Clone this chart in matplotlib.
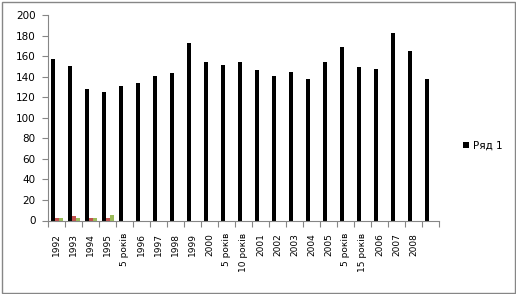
import numpy as np
import matplotlib
matplotlib.use('Agg')
import matplotlib.pyplot as plt
from matplotlib.patches import Rectangle

# categories (last one has no label in the original)
labels = ['1992', '1993', '1994', '1995', '5 років', '1996', '1997', '1998',
          '1999', '2000', '5 років', '10 років', '2001', '2002', '2003', '2004',
          '2005', '5 років', '15 років', '2006', '2007', '2008', '']
ryad1 = [157, 151, 128, 125, 131, 134, 141, 144, 173, 154, 152, 154,
         147, 141, 145, 138, 154, 169, 150, 148, 183, 165, 138]
ryad2 = [2, 4, 2, 2, 0, 0, 0, 0, 0, 0, 0, 0,
         0, 0, 0, 0, 0, 0, 0, 0, 0, 0, 0]
ryad3 = [2, 2, 2, 5, 0, 0, 0, 0, 0, 0, 0, 0,
         0, 0, 0, 0, 0, 0, 0, 0, 0, 0, 0]

gray = '#868686'
plt.rcParams['font.family'] = ['DejaVu Sans']

fig = plt.figure(figsize=(5.16, 2.94), dpi=100)
ax = fig.add_axes([48.3 / 516, 1 - 220.5 / 294, (439.3 - 48.3) / 516, (220.5 - 15.3) / 294])

x = np.arange(len(labels))
w = 0.235
ax.bar(x - w, ryad1, w, color='black', label='Ряд 1')
ax.bar(x, ryad2, w, color='#C0504D')
ax.bar(x + w, ryad3, w, color='#9BBB59')

ax.set_xlim(-0.5, len(labels) - 0.5)
ax.set_ylim(0, 200)
ax.set_yticks(range(0, 201, 20))
ax.tick_params(axis='y', labelsize=7.5, length=4, color=gray, width=0.8, pad=5)

ax.set_xticks(x)
ax.set_xticklabels(labels, rotation=90, fontsize=6.5)
ax.set_xticks(np.arange(len(labels) + 1) - 0.5, minor=True)
ax.tick_params(axis='x', which='major', length=0, pad=9)
ax.tick_params(axis='x', which='minor', length=4, color=gray, width=0.8)

for s in ['top', 'right']:
    ax.spines[s].set_visible(False)
for s in ['left', 'bottom']:
    ax.spines[s].set_color(gray)
    ax.spines[s].set_linewidth(0.8)

fig.legend(loc='center left', bbox_to_anchor=(458 / 516, 1 - 145.5 / 294),
           frameon=False, fontsize=7.5, handlelength=0.6, handleheight=0.6,
           handletextpad=0.3, borderpad=0)

fig.patches.append(Rectangle((1.5 / 516, 1.5 / 294), 513 / 516, 291 / 294,
                             transform=fig.transFigure, fill=False,
                             edgecolor=gray, linewidth=1.0))

fig.savefig('out.png', dpi=100)
